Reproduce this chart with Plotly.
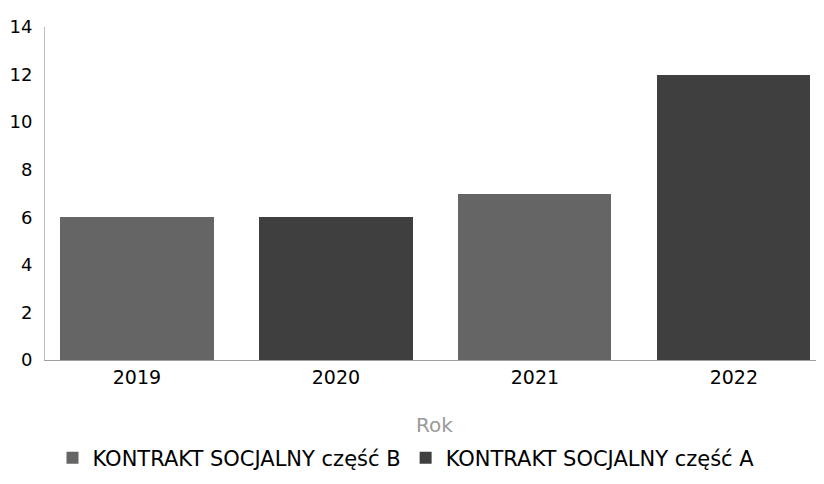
import plotly.graph_objects as go

years = ["2019", "2020", "2021", "2022"]
series_b_name = "KONTRAKT SOCJALNY część B"
series_a_name = "KONTRAKT SOCJALNY część A"
series_b_years = ["2019", "2021"]
series_b_values = [6, 7]
series_a_years = ["2020", "2022"]
series_a_values = [6, 12]
y_ticks = [0, 2, 4, 6, 8, 10, 12, 14]

W, H = 816, 476  # page adds an 8px body margin

fig = go.Figure()
fig.add_trace(go.Bar(x=series_b_years, y=series_b_values, name=series_b_name,
                     width=0.77,
                     marker=dict(color="#656565", line=dict(width=0))))
fig.add_trace(go.Bar(x=series_a_years, y=series_a_values, name=series_a_name,
                     width=0.77,
                     marker=dict(color="#3f3f3f", line=dict(width=0))))

fig.update_layout(
    width=W, height=H,
    margin=dict(l=37, r=0, t=19, b=124, autoexpand=False),
    paper_bgcolor="white", plot_bgcolor="white",
    barmode="stack",
    font=dict(family="DejaVu Sans", size=19, color="#000000"),
    showlegend=True,
    legend=dict(orientation="h", x=398 / W, xref="container", xanchor="center",
                y=(H - 450) / H, yref="container", yanchor="middle",
                font=dict(size=21, color="#000000"), traceorder="normal",
                itemwidth=30, tracegroupgap=0),
    xaxis=dict(type="category", categoryorder="array", categoryarray=years,
               range=[-0.462, 3.453],
               showgrid=False, showline=True, linecolor="#a0a0a0", linewidth=1,
               ticks="", tickfont=dict(size=19, color="#000000"),
               title=dict(text="Rok", font=dict(size=20, color="#9a9a9a"), standoff=33)),
    yaxis=dict(range=[0, 14], tickvals=y_ticks, showgrid=False, zeroline=False,
               showline=True, linecolor="#bdbdbd", linewidth=1, ticks="",
               ticklabelstandoff=8,
               tickfont=dict(size=18, color="#000000")),
)

fig.write_html("out.html")
